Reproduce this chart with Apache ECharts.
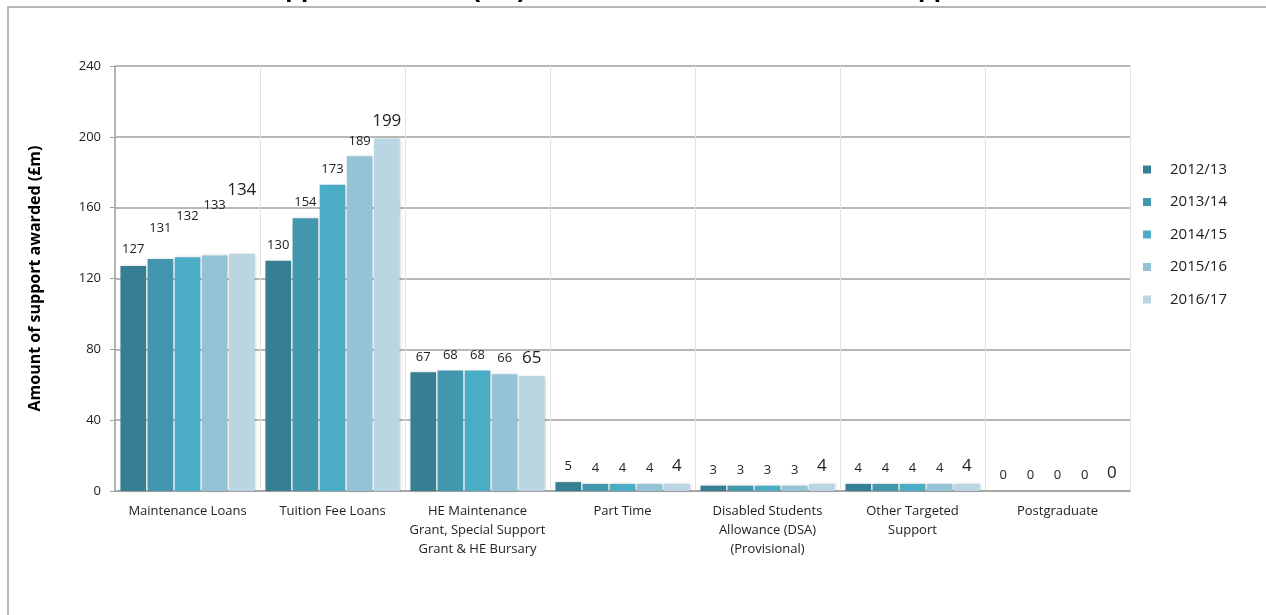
<!DOCTYPE html>
<html>
<head>
<meta charset="utf-8">
<script src="https://cdn.jsdelivr.net/npm/echarts@6/dist/echarts.min.js"></script>
<style>
html,body{margin:0;padding:0;background:#fff;}
#chart{width:1266px;height:615px;}
</style>
</head>
<body>
<div id="chart"></div>
<script>
const categories = [
  'Maintenance Loans',
  'Tuition Fee Loans',
  'HE Maintenance\nGrant, Special Support\nGrant & HE Bursary',
  'Part Time',
  'Disabled Students\nAllowance (DSA)\n(Provisional)',
  'Other Targeted\nSupport',
  'Postgraduate'
];
const years = ['2012/13', '2013/14', '2014/15', '2015/16', '2016/17'];
const y2012 = [127, 130, 67, 5, 3, 4, 0];
const y2013 = [131, 154, 68, 4, 3, 4, 0];
const y2014 = [132, 173, 68, 4, 3, 4, 0];
const y2015 = [133, 189, 66, 4, 3, 4, 0];
const y2016 = [134, 199, 65, 4, 4, 4, 0];
const yTicks = [0, 40, 80, 120, 160, 200, 240];

const seriesValues = [y2012, y2013, y2014, y2015, y2016];
const colors = ['#367f93', '#4296ae', '#4bacc6', '#93c3d4', '#b9d6e2'];
// extra upward shift of the staggered labels in the first category
const firstCatLift = [1, 15, 25, 35, 46];
const FONT = "'Open Sans', 'Noto Sans', sans-serif";

const chart = echarts.init(document.getElementById('chart'), null, {renderer: 'canvas'});

const series = seriesValues.map((vals, s) => ({
  name: years[s],
  type: 'bar',
  barGap: '6%',
  barCategoryGap: '7.5%',
  itemStyle: {
    color: colors[s],
    shadowColor: 'rgba(0,0,0,0.18)',
    shadowBlur: 3,
    shadowOffsetX: 1,
    shadowOffsetY: 0
  },
  label: {
    show: true,
    position: 'top',
    distance: 9,
    color: '#222',
    fontFamily: FONT,
    fontSize: s === 4 ? 17 : 13
  },
  data: vals.map((v, i) => i === 0
    ? {value: v, label: {offset: [0, -firstCatLift[s]]}}
    : v)
}));

chart.setOption({
  backgroundColor: '#fff',
  animation: false,
  title: {
    text: 'Student Support awarded (£m) in Scotland and the Student Support Schemes',
    left: 143,
    top: -28,
    textStyle: {fontFamily: "'Liberation Sans', sans-serif", fontWeight: 'bold', fontSize: 26, color: '#000'}
  },
  graphic: [{
    type: 'rect',
    shape: {x: 8, y: 7, width: 1400, height: 800},
    style: {fill: 'none', stroke: '#a0a0a0', lineWidth: 1.5},
    silent: true,
    z: -10
  }],
  legend: {
    orient: 'vertical',
    left: 1138,
    top: 154,
    icon: 'rect',
    itemWidth: 8,
    itemHeight: 8,
    itemGap: 11.5,
    data: years,
    textStyle: {fontFamily: FONT, fontSize: 15, color: '#222', padding: [0, 0, 0, 14], lineHeight: 21}
  },
  grid: {left: 115, right: 136, top: 66, bottom: 124, containLabel: false},
  xAxis: {
    type: 'category',
    data: categories,
    axisTick: {show: false},
    axisLine: {lineStyle: {color: '#a0a0a0', width: 1.5}},
    splitLine: {show: true, interval: 0, lineStyle: {color: '#e2e2e2', width: 1}},
    axisLabel: {
      interval: 0,
      margin: 11,
      color: '#222',
      fontFamily: FONT,
      fontSize: 13,
      lineHeight: 19
    }
  },
  yAxis: {
    type: 'value',
    min: yTicks[0],
    max: yTicks[yTicks.length - 1],
    interval: 40,
    name: 'Amount of support awarded (£m)',
    nameLocation: 'middle',
    nameRotate: 90,
    nameGap: 72,
    nameTextStyle: {fontFamily: FONT, fontWeight: 'bold', fontSize: 16, color: '#000'},
    axisLine: {show: true, lineStyle: {color: '#a0a0a0', width: 1.5}},
    axisTick: {show: true, length: 5, lineStyle: {color: '#a0a0a0'}},
    axisLabel: {margin: 14, color: '#222', fontFamily: FONT, fontSize: 13},
    splitLine: {lineStyle: {color: '#a0a0a0', width: 1.5}}
  },
  series: series
});
</script>
</body>
</html>
